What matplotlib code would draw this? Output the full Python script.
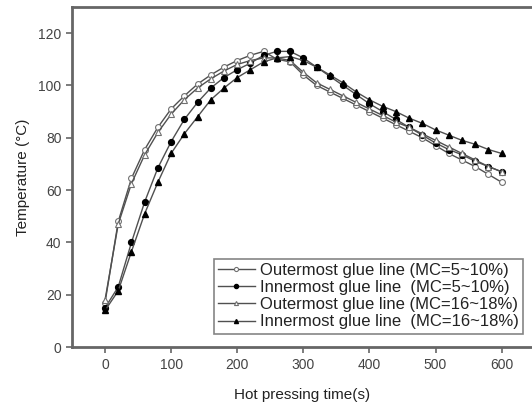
import numpy as np
import matplotlib
matplotlib.use('Agg')
from matplotlib import pyplot as plt

plt.rcParams['font.family'] = ['Liberation Sans', 'DejaVu Sans']

# hot pressing time (s), one reading every 20 s
time_s = list(range(0, 620, 20))

outer_mc5_10 = [17, 48, 64.5, 75.5, 84, 91, 96, 100.5, 104, 107, 109.5, 111.5, 113, 110, 109,
                104, 100, 97.5, 95, 92.5, 90, 87.5, 85, 82.5, 80, 77, 74, 71.5, 69, 66, 63]
inner_mc5_10 = [15, 23, 40, 55.5, 68.5, 78.5, 87, 93.5, 99, 103, 106, 108.5, 111.5, 113, 113,
                110.5, 107, 103.5, 100, 96.5, 93, 90, 87, 84, 81, 78, 75.5, 73.5, 71, 69, 67]
outer_mc16_18 = [18, 47, 62.5, 73.5, 82, 89, 94.5, 99, 102.5, 105.5, 108, 109.5, 110.5, 110.5, 109.5,
                 105, 101, 98.5, 96, 93.5, 91, 88.5, 86, 84, 81.5, 79, 76.5, 74, 71.5, 69, 67]
inner_mc16_18 = [14, 21.5, 36.5, 51, 63, 74, 81.5, 88, 94.5, 99, 103, 106, 109, 110.5, 111,
                 109.5, 107, 104, 101, 97.5, 94.5, 92, 90, 87.5, 85.5, 83, 81, 79, 77.5, 75.5, 74]

labels = ["Outermost glue line (MC=5~10%)",
          "Innermost glue line  (MC=5~10%)",
          "Outermost glue line (MC=16~18%)",
          "Innermost glue line  (MC=16~18%)"]

fig = plt.figure(figsize=(5.32, 4.05), dpi=100)
ax = fig.add_axes([0.1353, 0.143, 0.8647, 0.84])

line_col = '#505050'
ax.plot(time_s, outer_mc5_10, '-o', color=line_col, lw=1.0, ms=4.2,
        mfc='white', mec='#707070', mew=0.8, label=labels[0])
ax.plot(time_s, inner_mc5_10, '-o', color=line_col, lw=1.0, ms=4.2,
        mfc='black', mec='black', label=labels[1])
ax.plot(time_s, outer_mc16_18, '-^', color=line_col, lw=1.0, ms=4.2,
        mfc='white', mec='#707070', mew=0.8, label=labels[2])
ax.plot(time_s, inner_mc16_18, '-^', color=line_col, lw=1.0, ms=4.2,
        mfc='black', mec='black', label=labels[3])

ax.set_xlim(-50, 646)
ax.set_ylim(0, 130)
ax.set_xticks(range(0, 700, 100))
ax.set_yticks(range(0, 140, 20))

for s in ['left', 'bottom', 'top']:
    ax.spines[s].set_color('#666666')
    ax.spines[s].set_linewidth(2)
ax.spines['right'].set_visible(False)
ax.tick_params(direction='out', length=4, width=1.2, color='#666666',
               labelsize=10, labelcolor='#444444')

ax.set_xlabel("Hot pressing time(s)", fontsize=11, color='#222222', labelpad=12)
ax.set_ylabel("Temperature (°C)", fontsize=11, color='#222222', labelpad=6)

leg = ax.legend(loc='lower right', bbox_to_anchor=(0.998, 0.015), fontsize=12,
                frameon=True, fancybox=False, edgecolor='#666666',
                handlelength=2.2, handletextpad=0.3, borderpad=0.25,
                labelspacing=0.13, markerscale=0.7)
leg.get_frame().set_linewidth(1.2)
for t in leg.get_texts():
    t.set_color('#222222')

plt.savefig('out.png', dpi=100)
